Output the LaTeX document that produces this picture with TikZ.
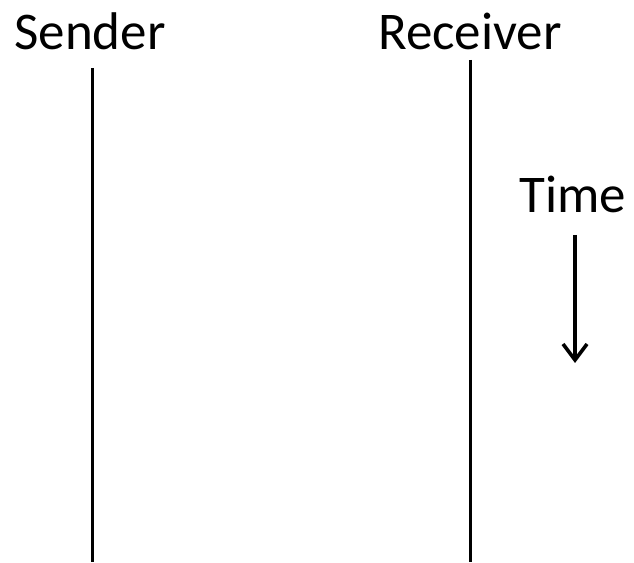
\documentclass[tikz,border=0pt]{standalone}
\usepackage{fontspec}
\setmainfont{Carlito}
\usetikzlibrary{arrows.meta}

\begin{document}
\begin{tikzpicture}[
    x=1pt, y=1pt,
    label/.style={anchor=base, inner sep=0pt, font=\fontsize{53}{60}\selectfont},
    lifeline/.style={line width=3pt, black},
    timearrow/.style={-{Straight Barb[length=16pt, width=24pt, line width=3.6pt]}, line width=3.2pt}
]
\useasboundingbox (0,0) rectangle (634,562);

% Nodes
\node (sender) [label] at (90,512) {Sender};
\node (receiver) [label] at (470,512) {Receiver};
\node (time) [label] at (573,349) {Time};

% Line ends
\coordinate (sendertop) at (92,494);
\coordinate (senderbot) at (92,0);
\coordinate (receivertop) at (470,502);
\coordinate (receiverbot) at (470,0);
\coordinate (timestart) at (575,327);
\coordinate (timeend) at (575,199);

% Paths
\draw [lifeline] (sendertop) -- (senderbot);
\draw [lifeline] (receivertop) -- (receiverbot);
\draw [timearrow] (timestart) -- (timeend);

\end{tikzpicture}
\end{document}
